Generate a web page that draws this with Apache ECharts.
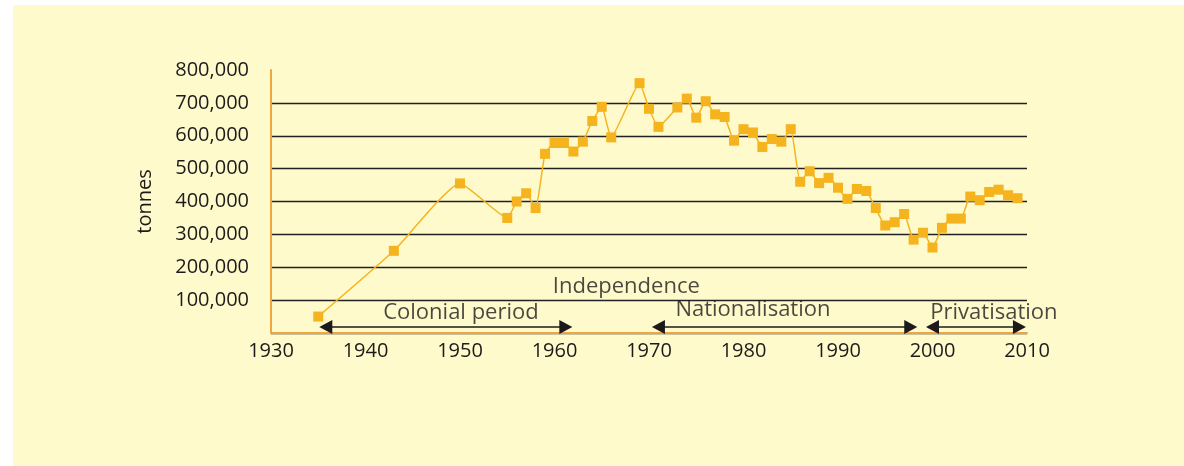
<!DOCTYPE html>
<html>
<head>
<meta charset="utf-8">
<script src="https://cdn.jsdelivr.net/npm/echarts@6/dist/echarts.min.js"></script>
<style>
  html, body { margin: 0; padding: 0; background: #fff; }
  #panel { position: absolute; left: 13px; top: 5px; right: 0; bottom: 0; background: #FFFACB; }
  #chart { position: absolute; left: 0; top: 0; width: 1184px; height: 466px; }
</style>
</head>
<body>
<div id="panel"></div>
<div id="chart"></div>
<script>
// annual output, tonnes
const years = [1935, 1943, 1950, 1955, 1956, 1957, 1958, 1959, 1960, 1961, 1962, 1963, 1964, 1965, 1966,
  1969, 1970, 1971, 1973, 1974, 1975, 1976, 1977, 1978, 1979, 1980, 1981, 1982, 1983, 1984, 1985,
  1986, 1987, 1988, 1989, 1990, 1991, 1992, 1993, 1994, 1995, 1996, 1997, 1998, 1999, 2000,
  2001, 2002, 2003, 2004, 2005, 2006, 2007, 2008, 2009];
const tonnes = [50000, 250000, 455000, 350000, 400000, 425000, 380000, 545000, 578000, 578000, 552000, 582000, 645000, 688000, 595000,
  760000, 682000, 627000, 686000, 713000, 655000, 705000, 665000, 657000, 585000, 620000, 610000, 566000, 590000, 582000, 620000,
  460000, 492000, 456000, 472000, 442000, 408000, 438000, 432000, 380000, 327000, 337000, 362000, 284000, 305000, 260000,
  320000, 348000, 348000, 415000, 404000, 429000, 436000, 419000, 410000];

// periods shown under the curve
const periodNames = ['Colonial period', 'Nationalisation', 'Privatisation'];
const periodStart = [1935.1, 1970.3, 1999.3];
const periodEnd = [1961.9, 1998.4, 2009.9];
const periodLabelYear = [1950.1, 1981.0, 2006.5];
const periodLabelValue = [63000, 72000, 63000];
const eventName = 'Independence';
const eventYear = 1967.6;
const eventValue = 142000;

const yTicks = [0, 100000, 200000, 300000, 400000, 500000, 600000, 700000, 800000];

const textColor = '#1d1a1b';
const orange = '#F5B31E';
const axisOrange = '#EEA63F';
const arrowY = 18000;

const chart = echarts.init(document.getElementById('chart'));

const notes = periodNames.map((n, i) => ({ value: [periodLabelYear[i], periodLabelValue[i]], name: n }));
notes.push({ value: [eventYear, eventValue], name: eventName });

chart.setOption({
  backgroundColor: 'transparent',
  animation: false,
  grid: { left: 271, right: 157, top: 70, bottom: 133 },
  xAxis: {
    type: 'value',
    min: 1930,
    max: 2010,
    interval: 10,
    axisLine: { lineStyle: { color: axisOrange, width: 2 } },
    axisTick: { show: false },
    splitLine: { show: false },
    axisLabel: { color: textColor, fontSize: 20, fontFamily: 'Open Sans', margin: 8, formatter: v => String(v) }
  },
  yAxis: {
    type: 'value',
    min: yTicks[0],
    max: yTicks[yTicks.length - 1],
    interval: 100000,
    name: 'tonnes',
    nameLocation: 'middle',
    nameGap: 116,
    nameTextStyle: { color: textColor, fontSize: 20, fontFamily: 'Open Sans' },
    axisLine: { show: true, lineStyle: { color: axisOrange, width: 2 } },
    axisTick: { show: false },
    splitLine: { show: true, showMaxLine: false, lineStyle: { color: '#222', width: 1.4 } },
    axisLabel: {
      color: textColor, fontSize: 20, fontFamily: 'Open Sans', margin: 22,
      formatter: v => v === 0 ? '' : v.toLocaleString('en-US')
    }
  },
  series: [
    {
      type: 'line',
      data: years.map((y, i) => [y, tonnes[i]]),
      smooth: 0.15,
      symbol: 'rect',
      symbolSize: 10,
      lineStyle: { color: orange, width: 1.5 },
      itemStyle: { color: orange },
      z: 3,
      markLine: {
        silent: true,
        symbol: ['triangle', 'triangle'],
        symbolSize: [14, 13],
        label: { show: false },
        lineStyle: { color: textColor, width: 1.5, type: 'solid' },
        data: periodNames.map((n, i) => [
          { coord: [periodStart[i] + 0.7, arrowY] },
          { coord: [periodEnd[i] - 0.7, arrowY] }
        ])
      }
    },
    {
      type: 'scatter',
      data: notes,
      symbolSize: 0,
      silent: true,
      label: {
        show: true,
        position: 'inside',
        formatter: p => p.name,
        color: textColor,
        fontSize: 22,
        fontFamily: 'Open Sans'
      },
      z: 4
    }
  ]
});
</script>
</body>
</html>
